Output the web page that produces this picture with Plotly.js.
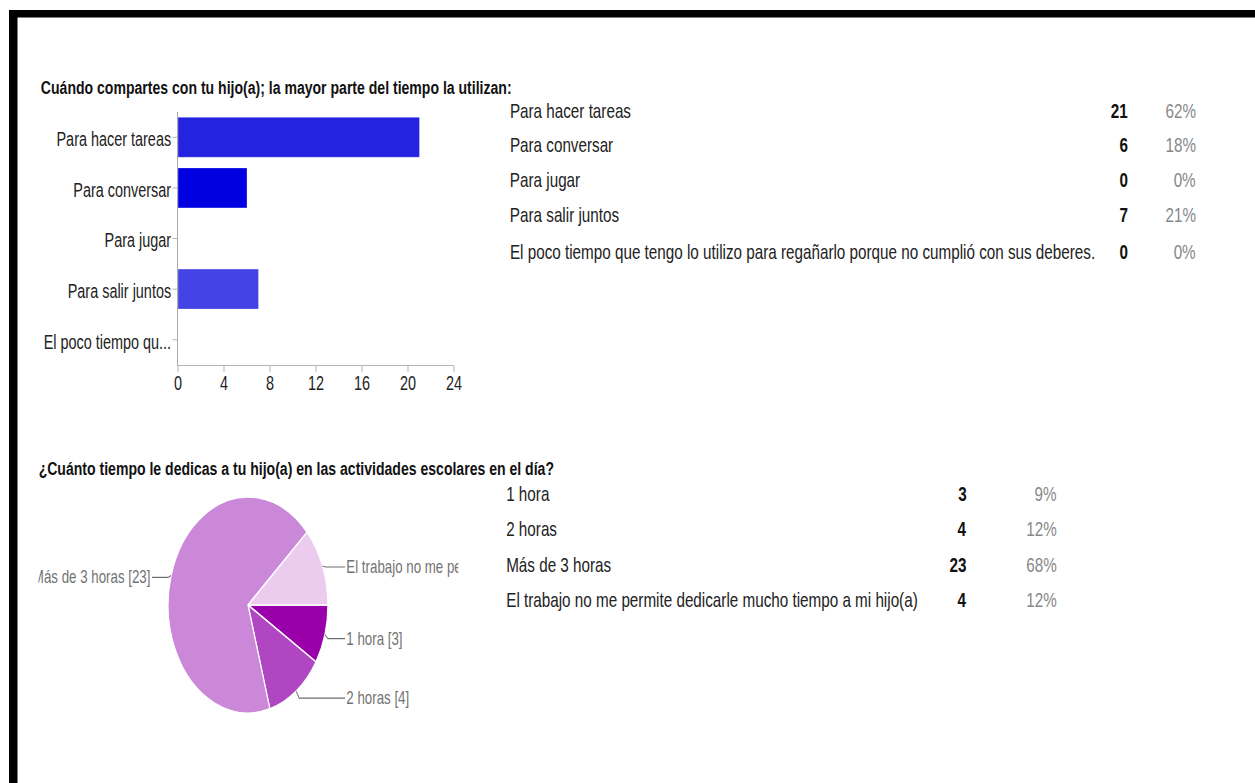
<!DOCTYPE html>
<html>
<head>
<meta charset="utf-8">
<script src="https://cdn.plot.ly/plotly-3.0.1.min.js"></script>
<style>
html,body{margin:0;padding:0;overflow:hidden;background:#fff;width:1255px;height:783px}
#wrap{width:1255px;height:783px;overflow:hidden;position:relative}
#chart{width:1696px;height:783px;transform:scaleX(0.74);transform-origin:0 0}
</style>
</head>
<body>
<div id="wrap"><div id="chart"></div></div>
<script>
// ---- data ----
const q1Title = 'Cuándo compartes con tu hijo(a); la mayor parte del tiempo la utilizan:';
const q1Categories = ['Para hacer tareas', 'Para conversar', 'Para jugar', 'Para salir juntos',
  'El poco tiempo que tengo lo utilizo para regañarlo porque no cumplió con sus deberes.'];
const q1AxisLabels = ['Para hacer tareas', 'Para conversar', 'Para jugar', 'Para salir juntos', 'El poco tiempo qu...'];
const q1Counts = [21, 6, 0, 7, 0];
const q1Percents = ['62%', '18%', '0%', '21%', '0%'];
const q1Ticks = [0, 4, 8, 12, 16, 20, 24];

const q2Title = '¿Cuánto tiempo le dedicas a tu hijo(a) en las actividades escolares en el día?';
const q2Categories = ['1 hora', '2 horas', 'Más de 3 horas',
  'El trabajo no me permite dedicarle mucho tiempo a mi hijo(a)'];
const q2PieLabels = ['1 hora [3]', '2 horas [4]', 'Más de 3 horas [23]', 'El trabajo no me permite'];
const q2Counts = [3, 4, 23, 4];
const q2Percents = ['9%', '12%', '68%', '12%'];

// ---- styles ----
const q1Colors = ['#2323e0', '#0000e0', '#4b4be6', '#4444e6', '#6a6aec'];
const q2Colors = ['#9900aa', '#b146c2', '#cc88d8', '#ebcbee'];
const SX = 0.74;            // horizontal squeeze of the original screenshot
const W0 = 1255, H = 783;
const W = W0 / SX;
const FONT = 'Liberation Sans, Arial, Helvetica, sans-serif';
const px = x => x / W0;
const py = y => 1 - y / H;

const annotations = [];
const shapes = [];

// titles
annotations.push({text: '<b>' + q1Title + '</b>', xref: 'paper', yref: 'paper', x: px(39), y: py(87),
  xanchor: 'left', yanchor: 'middle', showarrow: false, font: {family: FONT, size: 19, color: '#111'}});
annotations.push({text: '<b>' + q2Title + '</b>', xref: 'paper', yref: 'paper', x: px(37), y: py(468),
  xanchor: 'left', yanchor: 'middle', showarrow: false, font: {family: FONT, size: 19, color: '#111'}});

// table 1
const t1Rows = [110, 145, 180, 215, 251];
q1Categories.forEach((c, i) => {
  annotations.push({text: c, xref: 'paper', yref: 'paper', x: px(508), y: py(t1Rows[i]), xanchor: 'left',
    yanchor: 'middle', showarrow: false, font: {family: FONT, size: 20.6, color: '#222'}});
  annotations.push({text: '<b>' + q1Counts[i] + '</b>', xref: 'paper', yref: 'paper', x: px(1129), y: py(t1Rows[i]),
    xanchor: 'right', yanchor: 'middle', showarrow: false, font: {family: FONT, size: 20.6, color: '#111'}});
  annotations.push({text: q1Percents[i], xref: 'paper', yref: 'paper', x: px(1197), y: py(t1Rows[i]),
    xanchor: 'right', yanchor: 'middle', showarrow: false, font: {family: FONT, size: 20.6, color: '#888'}});
});

// table 2
const t2Rows = [493, 528.5, 564, 599.5];
q2Categories.forEach((c, i) => {
  annotations.push({text: c, xref: 'paper', yref: 'paper', x: px(505), y: py(t2Rows[i]), xanchor: 'left',
    yanchor: 'middle', showarrow: false, font: {family: FONT, size: 20.6, color: '#222'}});
  annotations.push({text: '<b>' + q2Counts[i] + '</b>', xref: 'paper', yref: 'paper', x: px(968), y: py(t2Rows[i]),
    xanchor: 'right', yanchor: 'middle', showarrow: false, font: {family: FONT, size: 20.6, color: '#111'}});
  annotations.push({text: q2Percents[i], xref: 'paper', yref: 'paper', x: px(1058), y: py(t2Rows[i]),
    xanchor: 'right', yanchor: 'middle', showarrow: false, font: {family: FONT, size: 20.6, color: '#888'}});
});

// pie geometry (reference pixels)
const pieCx = 248, pieCy = 605, pieRy = 108, pieRx = pieRy * SX;
const pieDomX = [px(pieCx) - 0.08, px(pieCx) + 0.08];
const pieDomY = [py(pieCy + pieRy), py(pieCy - pieRy)];

// pie labels with leader lines, anchored on slice mid-angles
const total = q2Counts.reduce((a, b) => a + b, 0);
const labelDy = [4, 7, 2, 1];
let cum = 0;
q2Categories.forEach((c, i) => {
  const mid = (cum + q2Counts[i] / 2) / total * 2 * Math.PI; // clockwise from 3 o'clock
  cum += q2Counts[i];
  const ax = pieCx + pieRx * Math.cos(mid);
  const ay = pieCy + pieRy * Math.sin(mid);
  const right = Math.cos(mid) >= 0;
  const ly = ay + labelDy[i];
  const knee = ax + (right ? 3 : -3);
  const endX = right ? 345 : 152;
  shapes.push({type: 'path', xref: 'paper', yref: 'paper',
    path: `M${px(ax)},${py(ay)} L${px(knee)},${py(ly)} L${px(endX)},${py(ly)}`,
    line: {color: '#6f6f6f', width: 1.2}});
  const txt = q2PieLabels[i];
  if (right) {
    annotations.push({text: txt, xref: 'paper', yref: 'paper', x: px(345), y: py(ly), xanchor: 'left',
      yanchor: 'middle', align: 'left', width: (458 - 346) / SX, showarrow: false,
      font: {family: FONT, size: 18, color: '#737373'}});
  } else {
    annotations.push({text: txt, xref: 'paper', yref: 'paper', x: px(152), y: py(ly), xanchor: 'right',
      yanchor: 'middle', align: 'right', width: (152 - 40) / SX, showarrow: false,
      font: {family: FONT, size: 18, color: '#737373'}});
  }
});

// black screenshot border
shapes.push({type: 'rect', xref: 'paper', yref: 'paper', x0: px(9), x1: 1, y0: py(17.5), y1: py(10),
  fillcolor: '#000', line: {width: 0}, layer: 'above'});
shapes.push({type: 'rect', xref: 'paper', yref: 'paper', x0: px(9), x1: px(17.5), y0: 0, y1: py(10),
  fillcolor: '#000', line: {width: 0}, layer: 'above'});

const bar = {
  type: 'bar', orientation: 'h', x: q1Counts, y: q1Categories, width: 0.79,
  marker: {color: q1Colors, line: {color: 'rgba(255,255,255,0.35)', width: 1}},
  hoverinfo: 'none', xaxis: 'x', yaxis: 'y'
};
const pie = {
  type: 'pie', values: q2Counts, labels: q2Categories, sort: false, direction: 'clockwise', rotation: 90,
  marker: {colors: q2Colors, line: {color: '#fff', width: 1.6}}, textinfo: 'none', hoverinfo: 'none',
  domain: {x: pieDomX, y: pieDomY}, showlegend: false
};

const layout = {
  width: W, height: H, autosize: false, margin: {l: 0, r: 0, t: 0, b: 0},
  paper_bgcolor: '#fff', plot_bgcolor: 'rgba(0,0,0,0)', showlegend: false,
  font: {family: FONT, color: '#222'},
  xaxis: {domain: [px(178), px(454)], range: [0, 24], tickvals: q1Ticks, ticks: 'outside', ticklen: 6,
    ticklabelstandoff: -5,
    tickcolor: '#aaa', showline: true, linecolor: '#aaa', linewidth: 1, showgrid: false, zeroline: false,
    anchor: 'y', fixedrange: true, tickfont: {family: FONT, size: 19.5, color: '#222'}},
  yaxis: {domain: [py(365), py(112)], type: 'category', categoryarray: q1Categories, autorange: 'reversed',
    tickvals: q1Categories, ticktext: q1AxisLabels, ticks: 'outside', ticklen: 6, tickcolor: '#aaa',
    ticklabelstandoff: -2, ticklabelshift: -2,
    showline: true, linecolor: '#aaa', linewidth: 1.4, showgrid: false, zeroline: false, anchor: 'x',
    fixedrange: true, tickfont: {family: FONT, size: 19.5, color: '#222'}},
  annotations: annotations, shapes: shapes
};

Plotly.newPlot('chart', [bar, pie], layout, {staticPlot: true, displayModeBar: false});
</script>
</body>
</html>
